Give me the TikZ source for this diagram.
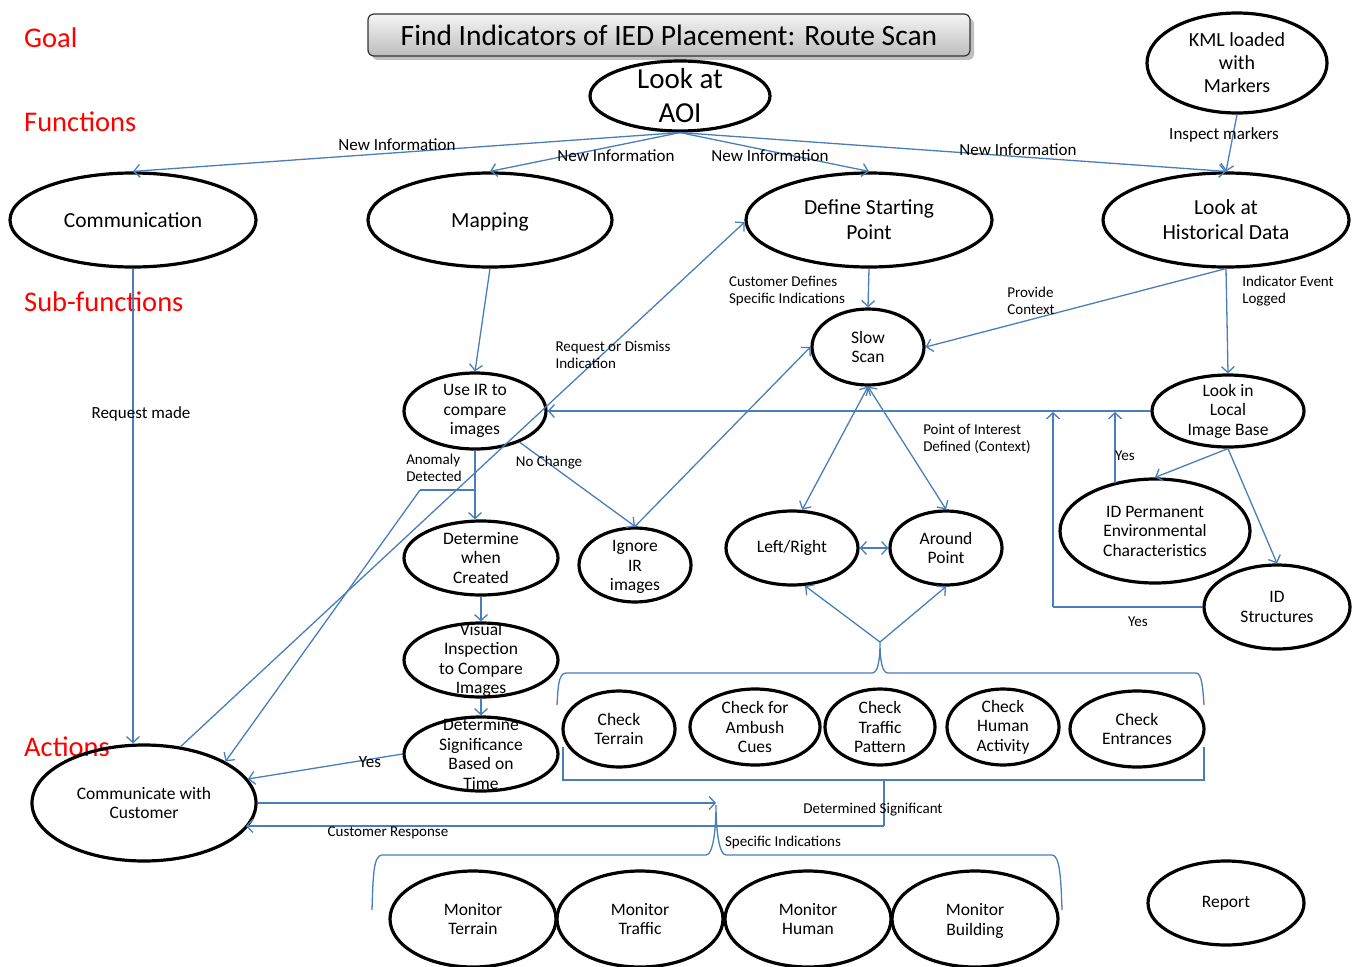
\documentclass[tikz,border=0pt]{standalone}
\usepackage{fontspec}
\setmainfont{Carlito}
\usetikzlibrary{shapes.geometric,arrows.meta,calc}
\definecolor{eblue}{HTML}{4A7EBB}
\definecolor{gred}{HTML}{FF0000}
\newcommand\myfs[2]{\fontsize{#1}{#2}\selectfont}
\newcommand\ellnode[7]{\node[ell, minimum width=#4pt, minimum height=#5pt, label={[#6]center:#7}] (#1) at (#2,#3) {};}
\begin{document}
\begin{tikzpicture}[x=1pt,y=-1pt,
  ell/.style={draw=black, line width=3.2pt, ellipse, inner sep=0pt},
  big/.style={align=center, font=\myfs{29}{34}},
  fun/.style={align=center, font=\myfs{21.5}{25}},
  kmlt/.style={align=center, font=\myfs{20}{23}},
  sm/.style={align=center, font=\myfs{17.5}{19.5}},
  lbl/.style={align=left, inner sep=0pt, font=\myfs{15}{17}},
  lblb/.style={align=left, inner sep=0pt, font=\myfs{17}{19}},
  red/.style={anchor=west, inner sep=0pt, text=gred, font=\myfs{28.5}{32}},
  ln/.style={draw=eblue, line width=1.3pt},
  arr/.style={ln, -{Straight Barb[length=6pt,width=13pt]}},
  darr/.style={ln, {Straight Barb[length=6pt,width=13pt]}-{Straight Barb[length=6pt,width=13pt]}},
  titlebox/.style={draw=black!80, line width=1.2pt, rounded corners=6pt, top color=white!96!black, bottom color=white!74!black, minimum width=602pt, minimum height=42pt, font=\myfs{29.5}{34}}
]
\useasboundingbox (0,0) rectangle (1359,966);

% title
\fill[black, opacity=0.25, rounded corners=6pt] (372,18) rectangle (974,60);
\node[titlebox] (title) at (669,35) {Find Indicators of IED Placement: Route Scan};

% level labels
\node[red] (goal) at (24,38) {Goal};
\node[red] (functions) at (24,122) {Functions};
\node[red] (subf) at (24,302) {Sub-functions};
\node[red] (actions) at (24,747) {Actions};

% nodes
\ellnode{aoi}{680}{96}{180}{70}{big}{Look at\\AOI}
\ellnode{comm}{133}{220}{246}{94}{fun}{Communication}
\ellnode{map}{490}{220}{244}{94}{fun, yshift=-2pt}{Mapping}
\ellnode{dsp}{869}{220}{246}{94}{fun}{Define Starting\\Point}
\ellnode{hist}{1226}{220}{246}{94}{fun}{Look at\\Historical Data}
\ellnode{kml}{1237}{63}{180}{100}{kmlt}{KML loaded\\with\\Markers}
\ellnode{slow}{868}{347}{112}{76}{sm}{Slow\\Scan}
\ellnode{useir}{475}{411}{142}{76}{sm}{Use IR to\\compare\\images}
\ellnode{local}{1228}{411}{152}{72}{sm}{Look in\\Local\\Image Base}
\ellnode{dwc}{481}{558}{154}{74}{sm}{Determine\\when\\Created}
\ellnode{ignore}{635}{565}{112}{74}{sm, yshift=-2pt}{Ignore\\IR\\images}
\ellnode{lr}{792}{548}{132}{74}{sm}{Left/Right}
\ellnode{around}{946}{548}{112}{74}{sm}{Around\\Point}
\ellnode{idperm}{1155}{531}{190}{104}{sm}{ID Permanent\\Environmental\\Characteristics}
\ellnode{idstr}{1277}{607}{146}{84}{sm}{ID\\Structures}
\ellnode{visual}{481}{660}{154}{74}{sm}{Visual\\Inspection\\to Compare\\Images}
\ellnode{dsig}{481}{754}{154}{74}{sm}{Determine\\Significance\\Based on\\Time}
\ellnode{ccust}{144}{803}{224}{116}{sm}{Communicate with\\Customer}
\ellnode{ck1}{619}{729}{112}{76}{sm}{Check\\Terrain}
\ellnode{ck2}{755}{727}{130}{76}{sm}{Check for\\Ambush\\Cues}
\ellnode{ck3}{880}{727}{110}{76}{sm}{Check\\Traffic\\Pattern}
\ellnode{ck4}{1003}{727}{112}{76}{sm}{Check\\Human\\Activity}
\ellnode{ck5}{1137}{729}{134}{76}{sm}{Check\\Entrances}
\ellnode{m1}{473}{919}{166}{96}{sm}{Monitor\\Terrain}
\ellnode{m2}{640}{919}{166}{96}{sm}{Monitor\\Traffic}
\ellnode{m3}{808}{919}{166}{96}{sm}{Monitor\\Human}
\ellnode{m4}{975}{919}{166}{96}{sm, yshift=-2pt}{Monitor\\Building}
\ellnode{report}{1226}{903}{156}{84}{sm}{Report}

% coordinates
\coordinate (anom) at (475,490);
\coordinate (anomL) at (420,490);
\coordinate (fork) at (880,642);
\coordinate (sigdrop) at (884,780);
\coordinate (sigturn) at (884,826);
\coordinate (respend) at (246,826);
\coordinate (spectip) at (716,803);
\coordinate (yesA) at (1115,483);
\coordinate (yesAtop) at (1115,412);
\coordinate (yesB) at (1053,607);
\coordinate (yesBtop) at (1053,412);

% connectors
\draw[arr] (aoi.south) -- (comm.north);
\draw[arr] (aoi.south) -- (map.north);
\draw[arr] (aoi.south) -- (dsp.north);
\draw[arr] (aoi.south) -- (hist.north);
\draw[arr] (kml.south) -- (hist.north);
\draw[arr] (map.south) -- (useir.north);
\draw[arr] (dsp.south) -- (slow.north);
\draw[arr] (hist.south) -- (slow.east);
\draw[arr] (hist.south) -- (local.north);
\draw[arr] (local.west) -- (useir.east);
\draw[darr] (slow.south) -- (lr.75);
\draw[darr] (slow.south) -- (around.north);
\draw[darr] (lr.east) -- (around.west);
\draw[arr] (ignore.north) -- (slow.west);
\draw[arr] (useir.-35) -- (ignore.north);
\draw[arr] (useir.south) -- (useir.south |- dwc.north);
\draw[ln] (anom) -- (anomL);
\draw[arr] (anomL) -- (ccust.27);
\draw[arr] (ccust.57) -- (dsp.181);
\draw[arr] (comm.south) -- (comm.south |- ccust.north);
\draw[arr] (dwc.south) -- (visual.north);
\draw[arr] (visual.south) -- (dsig.north);
\draw[arr] (dsig.west) -- (ccust.13);
\draw[arr] (local.south) -- (idperm.north);
\draw[arr] (local.south) -- (idstr.north);
\draw[arr] (yesA) -- (yesAtop);
\draw[ln] (idstr.west) -- (yesB);
\draw[arr] (yesB) -- (yesBtop);

% top brace over check row
\draw[ln] (557,705) .. controls (558,690) and (558,673) .. (566,673) -- (872,673)
  .. controls (878,673) and (880,660) .. (fork)
  .. controls (880,660) and (882,673) .. (888,673) -- (1196,673)
  .. controls (1202,673) and (1203,690) .. (1204,705);
\draw[arr] (fork) -- (lr.-71);
\draw[arr] (fork) -- (around.south);

% bottom bracket under check row
\draw[ln] (563,747) -- (563,780) -- (1204,780) -- (1204,747);
\draw[ln] (sigdrop) -- (sigturn);
\draw[arr] (sigturn) -- (respend);

% specific indications
\draw[arr] (ccust.east) -- (spectip);
\draw[ln] (372,910) .. controls (373,880) and (373,855) .. (382,855) -- (706,855)
  .. controls (713,855) and (716,830) .. (716,805)
  .. controls (716,830) and (719,855) .. (726,855) -- (1052,855)
  .. controls (1060,855) and (1061,880) .. (1062,910);

% labels
\node[lblb] (l1) at (397,145) {New Information};
\node[lblb] (l2) at (616,156) {New Information};
\node[lblb] (l3) at (770,156) {New Information};
\node[lblb] (l4) at (1018,150) {New Information};
\node[lblb] (l5) at (1224,135) {Inspect markers};
\node[lbl] (l6) at (787,291) {Customer Defines\\Specific Indications};
\node[lbl] (l7) at (1031,301) {Provide\\Context};
\node[lbl] (l8) at (1288,291) {Indicator Event\\Logged};
\node[lbl] (l9) at (613,355) {Request or Dismiss\\Indication};
\node[lblb] (l10) at (141,414) {Request made};
\node[lbl] (l11) at (434,468) {Anomaly\\Detected};
\node[lbl] (l12) at (549,463) {No Change};
\node[lbl] (l13) at (977,439) {Point of Interest\\Defined (Context)};
\node[lbl] (l14) at (1125,456) {Yes};
\node[lbl] (l15) at (1138,622) {Yes};
\node[lblb] (l16) at (370,762) {Yes};
\node[lbl] (l17) at (873,810) {Determined Significant};
\node[lbl] (l18) at (388,833) {Customer Response};
\node[lbl] (l19) at (783,842) {Specific Indications};
\end{tikzpicture}
\end{document}
